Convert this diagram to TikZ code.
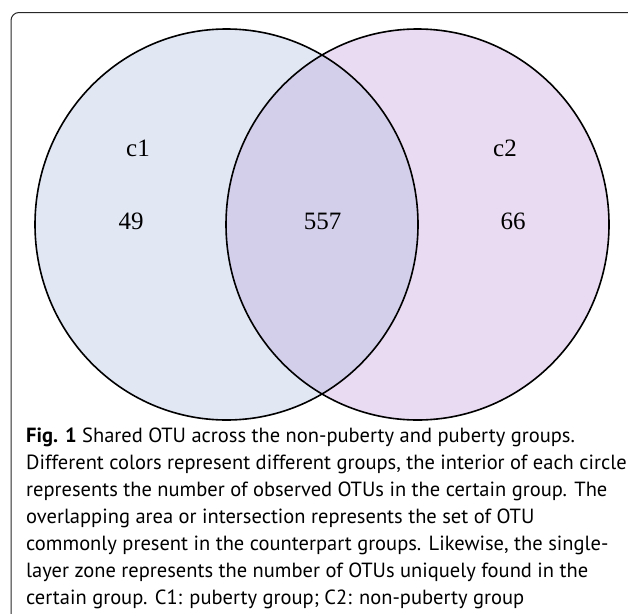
\documentclass[tikz,border=0pt]{standalone}
\usepackage{fontspec}
\setmainfont{Liberation Serif}
\newfontfamily\capfont{PT Sans}
\usepackage{tikz}

\definecolor{leftfill}{RGB}{226,231,244}
\definecolor{rightfill}{RGB}{233,219,241}
\definecolor{midfill}{RGB}{211,206,234}
\definecolor{framegray}{RGB}{40,40,40}

\begin{document}
\begin{tikzpicture}[x=1pt,y=-1pt,
	ring/.style={draw=black,line width=1.6pt},
	setlabel/.style={anchor=base,inner sep=0pt,font=\fontsize{25}{30}\selectfont},
	caption/.style={anchor=north west,inner sep=0pt,align=left,font=\capfont\fontsize{20.5}{27}\selectfont}]
\useasboundingbox (0,0) rectangle (628,613);
\clip (0,0) rectangle (628,613);
\draw [framegray,line width=1pt,rounded corners=8pt] (11,12.5) rectangle (636,630);
\coordinate (A) at (226.5,224.5);
\coordinate (B) at (417.5,224.5);
\fill [leftfill] (A) ellipse [x radius=191.5, y radius=195.5];
\fill [rightfill] (B) ellipse [x radius=191.5, y radius=195.5];
\begin{scope}
	\clip (A) ellipse [x radius=191.5, y radius=195.5];
	\fill [midfill] (B) ellipse [x radius=191.5, y radius=195.5];
\end{scope}
\draw [ring] (A) ellipse [x radius=191.5, y radius=195.5];
\draw [ring] (B) ellipse [x radius=191.5, y radius=195.5];
\node [setlabel] (c1) at (138,156) {c1};
\node [setlabel] (c2) at (505,156) {c2};
\node [setlabel] (only1) at (131,229) {49};
\node [setlabel] (both) at (322.5,229) {557};
\node [setlabel] (only2) at (513,229) {66};
\node [caption] (cap) at (26,427.5) {\textbf{Fig. 1} Shared OTU across the non-puberty and puberty groups.\\
	Different colors represent different groups, the interior of each circle\\
	represents the number of observed OTUs in the certain group. The\\
	overlapping area or intersection represents the set of OTU\\
	commonly present in the counterpart groups. Likewise, the single-\\
	layer zone represents the number of OTUs uniquely found in the\\
	certain group. C1: puberty group; C2: non-puberty group};
\end{tikzpicture}
\end{document}
